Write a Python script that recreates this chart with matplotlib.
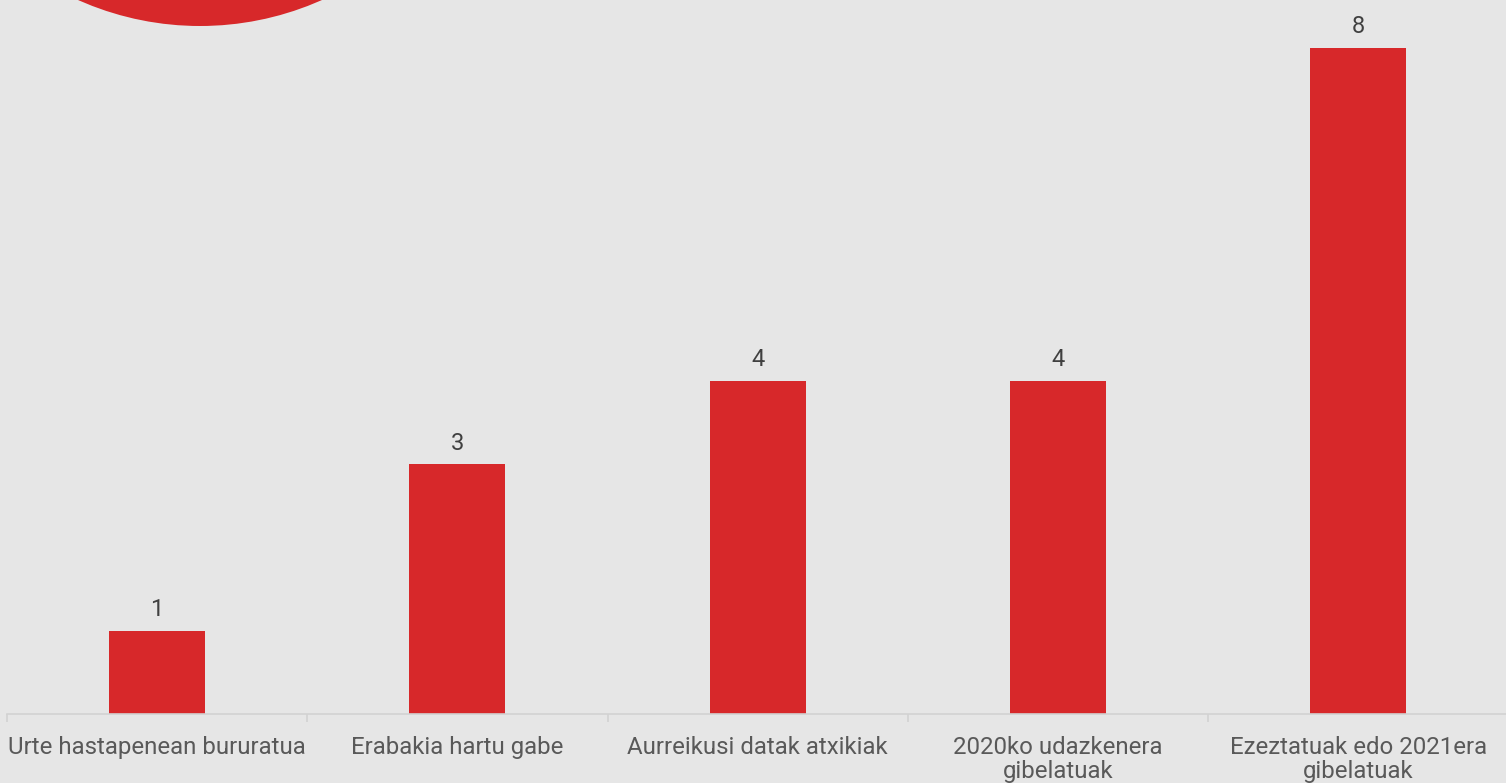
import matplotlib
matplotlib.use("Agg")
import matplotlib.pyplot as plt
from matplotlib.patches import Circle

categories = ["Urte hastapenean bururatua", "Erabakia hartu gabe", "Aurreikusi datak atxikiak",
              "2020ko udazkenera\ngibelatuak", "Ezeztatuak edo 2021era\ngibelatuak"]
values = [1, 3, 4, 4, 8]

plt.rcParams['font.family'] = ['Roboto', 'DejaVu Sans']
W, H = 1506, 783
bg = "#e6e6e6"
red = "#d7282a"

fig = plt.figure(figsize=(W / 100, H / 100), dpi=100, facecolor=bg)

# decorative circle drawn in a pixel-unit overlay axes
deco = fig.add_axes([0, 0, 1, 1], zorder=0)
deco.set_xlim(0, W)
deco.set_ylim(H, 0)
deco.axis('off')
deco.add_patch(Circle((200, -273), 299, facecolor=red, edgecolor='none'))

ymax = 8.6
ppu = 83.25
left = 7 / W
width = 1501.5 / W
bottom = 69 / H
height = ymax * ppu / H
ax = fig.add_axes([left, bottom, width, height], zorder=1)
ax.set_facecolor('none')
x = list(range(len(categories)))
ax.bar(x, values, width=0.32, color=red, zorder=2)
ax.set_xlim(-0.5, len(categories) - 0.5)
ax.set_ylim(0, ymax)
for xi, v in zip(x, values):
    ax.annotate(str(v), (xi, v), xytext=(0, 7), textcoords='offset points', ha='center', va='bottom',
                fontsize=17, color='#404040')
for s in ['top', 'right', 'left']:
    ax.spines[s].set_visible(False)
ax.spines['bottom'].set_color('#d2d2d2')
ax.spines['bottom'].set_linewidth(1.2)
ax.set_yticks([])
ax.set_xticks(x)
ax.set_xticklabels(categories, fontsize=17.3, color='#595959', linespacing=1.02)
ax.tick_params(axis='x', which='major', length=0, pad=16)
ax.set_xticks([i - 0.5 for i in range(len(categories) + 1)], minor=True)
ax.tick_params(axis='x', which='minor', length=6, color='#d2d2d2', width=1.2)

fig.savefig("out.png", dpi=100, facecolor=bg)
